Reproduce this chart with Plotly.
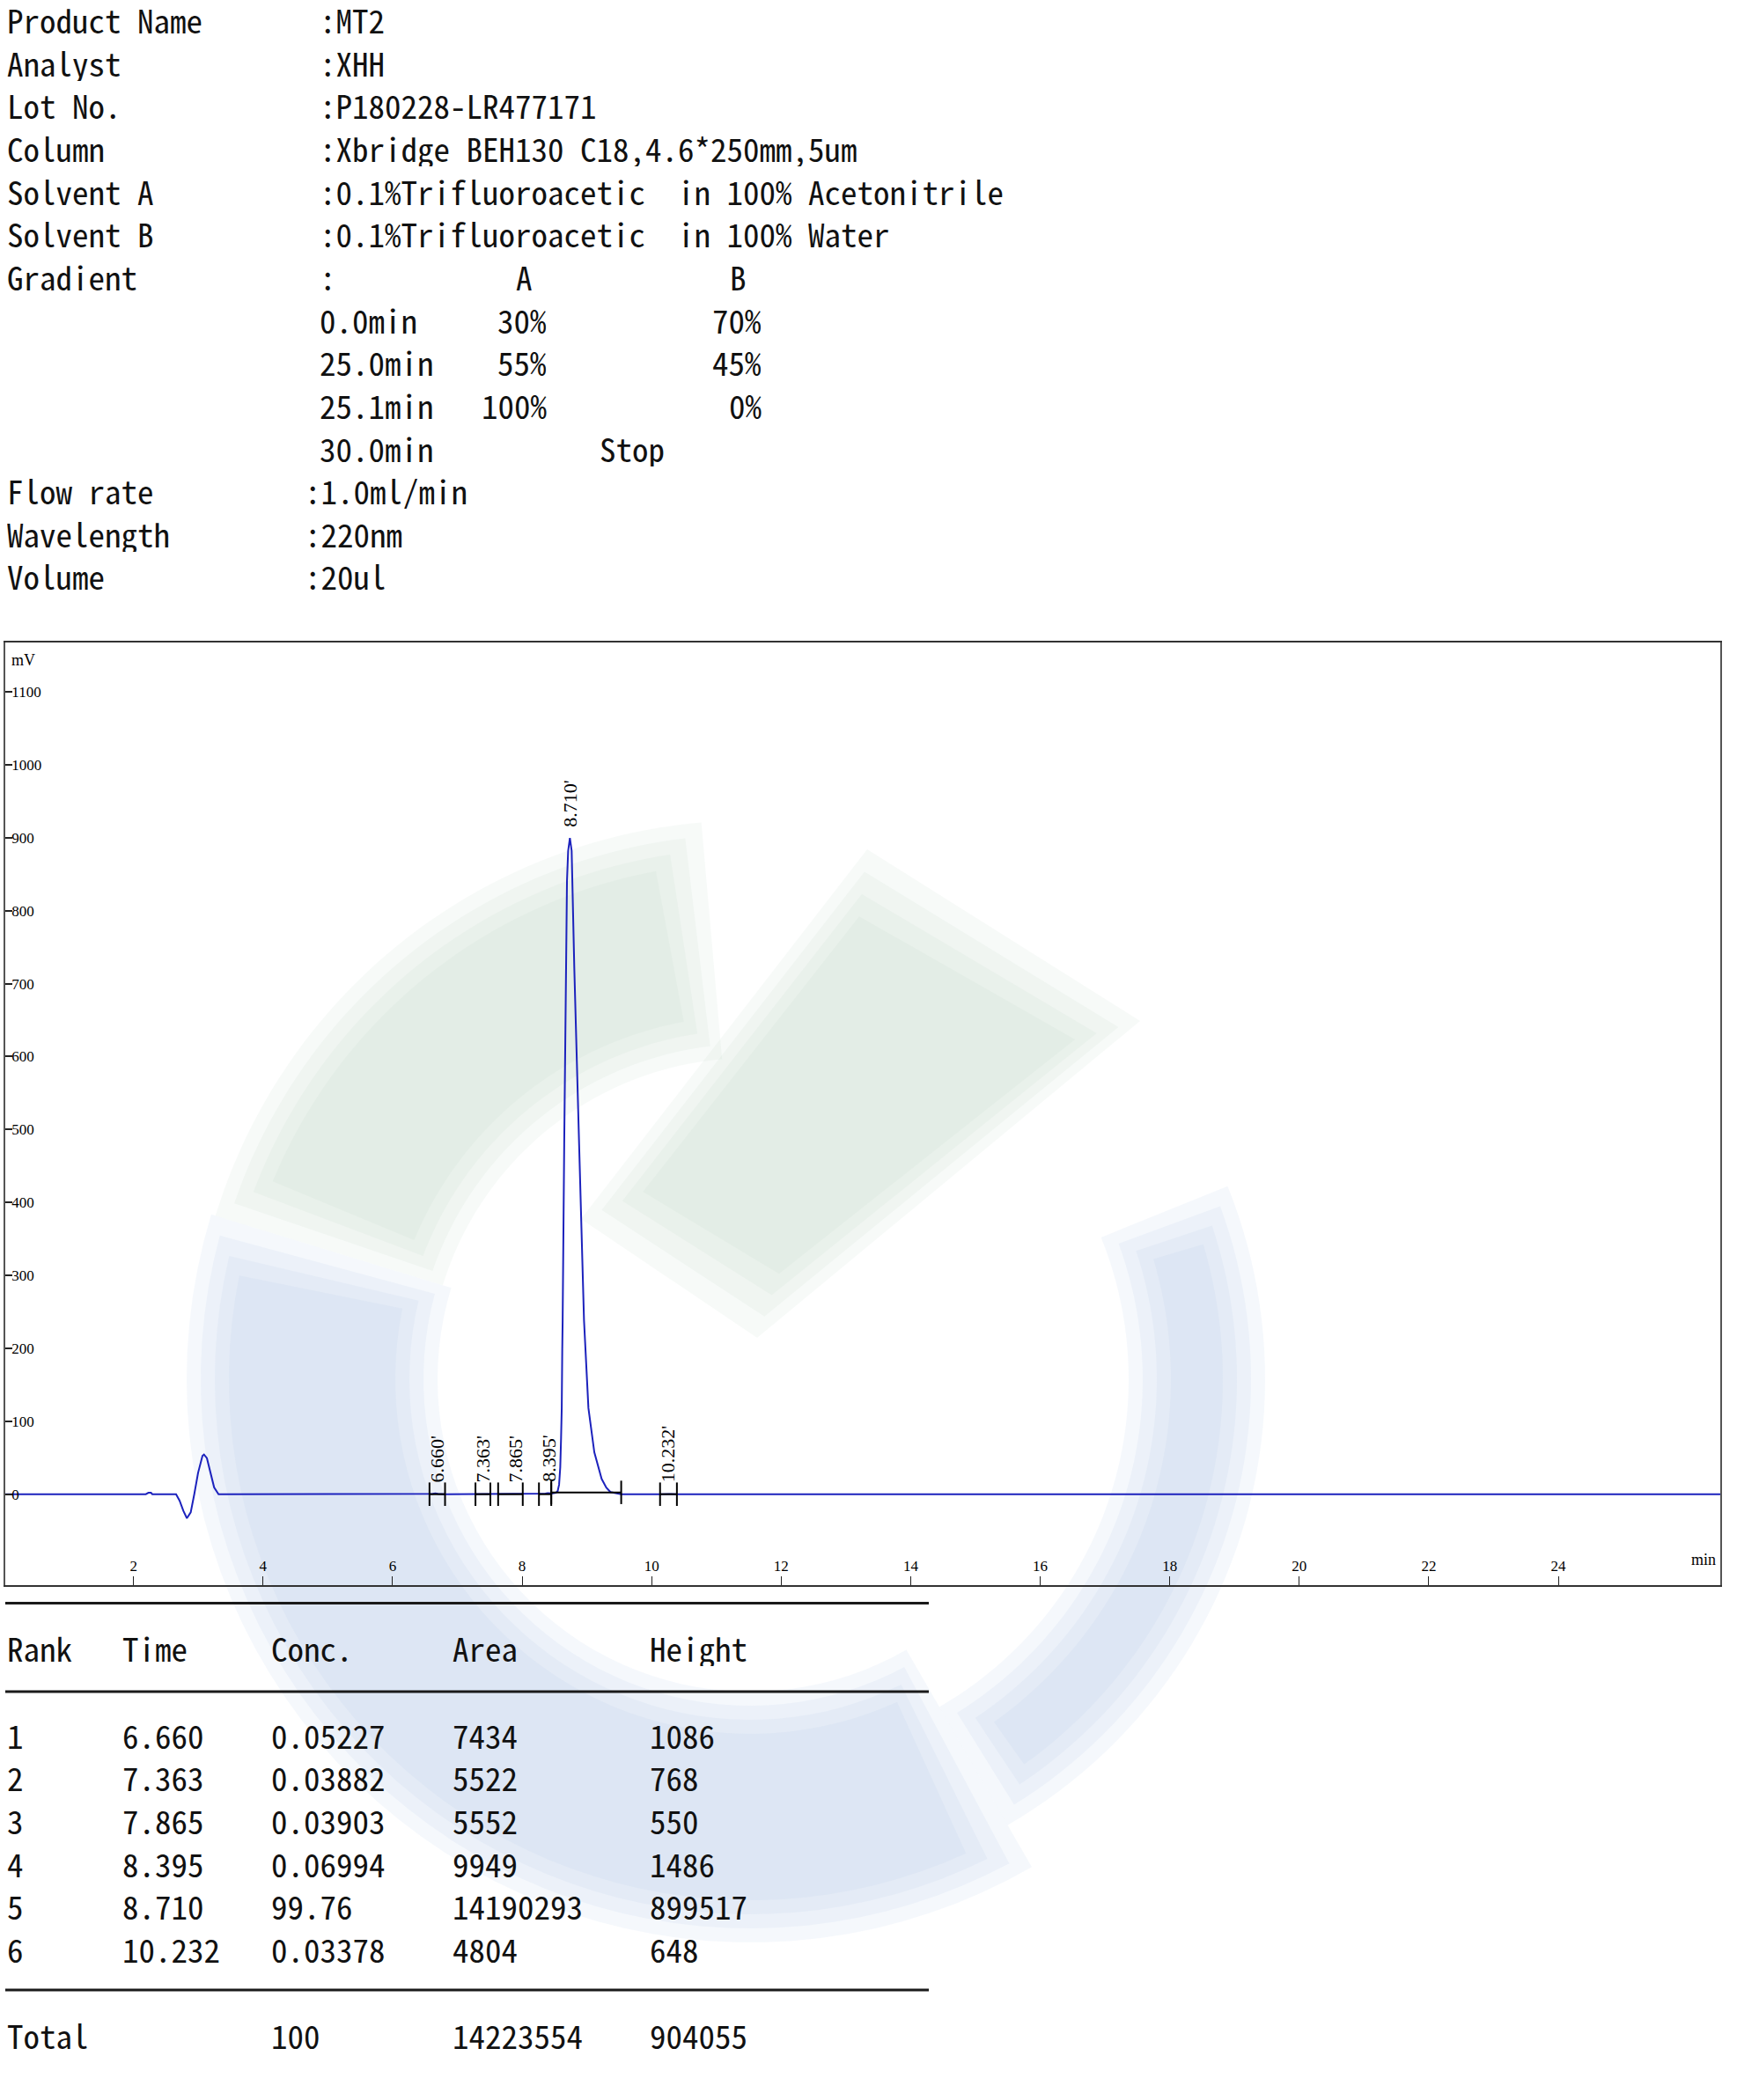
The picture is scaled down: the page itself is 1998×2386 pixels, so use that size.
import math
import plotly.graph_objects as go

W, H = 1998, 2386

# ---------------- chromatogram (min, mV) ----------------
time_min = [0.0, 2.19, 2.23, 2.25, 2.27, 2.29, 2.657, 2.711, 2.77, 2.824, 2.883, 2.938,
            2.997, 3.065, 3.088, 3.133, 3.191, 3.245, 3.313,
            6.57, 6.62, 6.66, 6.70, 6.81,
            7.28, 7.33, 7.363, 7.40, 7.51,
            7.63, 7.82, 7.865, 7.91, 8.01,
            8.26, 8.36, 8.395, 8.43, 8.453, 8.52, 8.548, 8.571, 8.589, 8.602, 8.612,
            8.620, 8.626, 8.650, 8.675, 8.693, 8.711, 8.738, 8.765, 8.775, 8.806,
            8.880, 8.956, 9.024, 9.115, 9.228, 9.300, 9.364, 9.450, 9.530,
            10.13, 10.20, 10.232, 10.27, 10.39, 26.5]
signal_mv = [0.0, 0.0, 2.0, 2.4, 2.0, 0.0, 0.0, -8.8, -22.9, -33.0, -24.9, 0.0,
             29.4, 52.7, 54.3, 49.5, 29.4, 9.3, 0.0,
             0.0, 0.5, 1.1, 0.5, 0.0,
             0.0, 0.4, 0.8, 0.4, 0.0,
             0.0, 0.3, 0.55, 0.3, 0.0,
             0.0, 0.8, 1.5, 1.2, 1.0, 2.0, 4.0, 13.0, 37.0, 78.0, 118.0,
             199.0, 238.0, 480.0, 721.0, 841.0, 882.0, 899.5, 882.0, 842.0, 721.0,
             480.0, 238.0, 118.0, 57.5, 21.0, 9.0, 3.0, 1.0, 0.0,
             0.0, 0.3, 0.65, 0.3, 0.0, 0.0]

# ---------------- integrated peaks ----------------
peak_rt = [6.660, 7.363, 7.865, 8.395, 8.710, 10.232]
peak_labels = ["6.660'", "7.363'", "7.865'", "8.395'", "8.710'", "10.232'"]
peak_height_mv = [1.086, 0.768, 0.550, 1.486, 899.517, 0.648]
peak_start_min = [6.57, 7.28, 7.63, 8.26, 8.45, 10.13]
peak_end_min = [6.81, 7.51, 8.01, 8.45, 9.53, 10.39]
peak_base_mv = [0.0, 0.0, 0.0, 0.0, 2.5, 0.0]

x_ticks = [2, 4, 6, 8, 10, 12, 14, 16, 18, 20, 22, 24]
y_ticks = [-100, 0, 100, 200, 300, 400, 500, 600, 700, 800, 900, 1000, 1100]

# ---------------- header information ----------------
info_labels = ["Product Name", "Analyst", "Lot No.", "Column", "Solvent A", "Solvent B", "Gradient"]
info_values = [":MT2", ":XHH", ":P180228-LR477171", ":Xbridge BEH130 C18,4.6*250mm,5um",
               ":0.1%Trifluoroacetic  in 100% Acetonitrile",
               ":0.1%Trifluoroacetic  in 100% Water", ":"]
grad_head = ["A", "B"]
grad_time = ["0.0min", "25.0min", "25.1min", "30.0min"]
grad_a = ["30%", "55%", "100%", ""]
grad_b = ["70%", "45%", "0%", ""]
grad_stop = "Stop"
run_labels = ["Flow rate", "Wavelength", "Volume"]
run_values = [":1.0ml/min", ":220nm", ":20ul"]

# ---------------- result table ----------------
tbl_head = ["Rank", "Time", "Conc.", "Area", "Height"]
tbl_rank = ["1", "2", "3", "4", "5", "6"]
tbl_time = ["6.660", "7.363", "7.865", "8.395", "8.710", "10.232"]
tbl_conc = ["0.05227", "0.03882", "0.03903", "0.06994", "99.76", "0.03378"]
tbl_area = ["7434", "5522", "5552", "9949", "14190293", "4804"]
tbl_height = ["1086", "768", "550", "1486", "899517", "648"]
tbl_total = ["Total", "", "100", "14223554", "904055"]

# ---------------- styling ----------------
BLUE = "#1c22bd"
MONO = "Noto Sans Mono CJK SC, Noto Sans Mono CJK JP, Liberation Mono, monospace"
SERIF = "Liberation Serif, Times New Roman, serif"
TXT = "#111111"
MONO_SIZE = 37


def px(x):
    return x / W


def py(y):
    return 1 - y / H


def nb(s):
    return s.replace(" ", "\u00a0")


fig = go.Figure()

# chromatogram line
fig.add_trace(go.Scatter(x=time_min, y=signal_mv, mode="lines",
                         line=dict(color=BLUE, width=2), hoverinfo="skip"))

# integration baselines
bx, by = [], []
for s, e, b in zip(peak_start_min, peak_end_min, peak_base_mv):
    bx += [s, e, None]
    by += [b, b, None]
fig.add_trace(go.Scatter(x=bx, y=by, mode="lines", line=dict(color="black", width=2),
                         hoverinfo="skip"))

# integration start/end ticks
fig.add_trace(go.Scatter(x=peak_start_min + peak_end_min, y=peak_base_mv + peak_base_mv,
                         mode="markers",
                         marker=dict(symbol="line-ns-open", size=19, color="black",
                                     line=dict(width=2, color="black")),
                         hoverinfo="skip"))

annotations = []

# peak labels
for rt, lab, h in zip(peak_rt, peak_labels, peak_height_mv):
    annotations.append(dict(x=rt, y=h + 13, xref="x", yref="y", text=lab, showarrow=False,
                            textangle=-90, xanchor="center", yanchor="bottom", xshift=2,
                            font=dict(family=SERIF, size=22, color="black")))

# axis unit labels
annotations.append(dict(x=px(11), y=py(750), xref="paper", yref="paper", text="mV",
                        showarrow=False, xanchor="left", yanchor="middle",
                        font=dict(family=SERIF, size=18, color="black")))
annotations.append(dict(x=px(1951), y=py(1772), xref="paper", yref="paper", text="min",
                        showarrow=False, xanchor="right", yanchor="middle",
                        font=dict(family=SERIF, size=18, color="black")))


def add_text(x, y, text, anchor="left"):
    annotations.append(dict(x=px(x), y=py(y), xref="paper", yref="paper", text=nb(text),
                            showarrow=False, xanchor=anchor, yanchor="middle", height=42,
                            font=dict(family=MONO, size=MONO_SIZE, color=TXT)))


ROW0, ROWH = 22.0, 48.65
COLW = 18.73
for i, (lab, val) in enumerate(zip(info_labels, info_values)):
    add_text(6, ROW0 + i * ROWH, lab)
    add_text(361, ROW0 + i * ROWH, val)
# gradient header letters
add_text(361 + 12.5 * COLW, ROW0 + 6 * ROWH, grad_head[0], "center")
add_text(361 + 25.5 * COLW, ROW0 + 6 * ROWH, grad_head[1], "center")
for j, (t, a, b) in enumerate(zip(grad_time, grad_a, grad_b)):
    yy = ROW0 + (7 + j) * ROWH
    add_text(361, yy, t)
    if a:
        add_text(361 + 14 * COLW, yy, a, "right")
    if b:
        add_text(361 + 27 * COLW, yy, b, "right")
add_text(361 + 17 * COLW, ROW0 + 10 * ROWH, grad_stop)
for k, (lab, val) in enumerate(zip(run_labels, run_values)):
    yy = ROW0 + (11 + k) * ROWH
    add_text(6, yy, lab)
    add_text(344, yy, val)

# table
tcols = [6, 6 + 7 * COLW, 6 + 16 * COLW, 6 + 27 * COLW, 6 + 39 * COLW]
for c, hname in zip(tcols, tbl_head):
    add_text(c, 1872, hname)
for r, row in enumerate(zip(tbl_rank, tbl_time, tbl_conc, tbl_area, tbl_height)):
    for c, v in zip(tcols, row):
        add_text(c, 1970.6 + r * 48.65, v)
for c, v in zip(tcols, tbl_total):
    if v:
        add_text(c, 2311.5, v)

shapes = []


# ---------------- faint, soft background watermark (decoration) ----------------
def pth(points):
    return "M " + " L ".join(f"{px(x):.5f},{py(y):.5f}" for x, y in points) + " Z"


def ring(cx, cy, r_out, r_in, a0, a1, n=48):
    outer, inner = [], []
    for i in range(n + 1):
        a = math.radians(a0 + (a1 - a0) * i / n)
        outer.append((cx + r_out * math.cos(a), cy - r_out * math.sin(a)))
        inner.append((cx + r_in * math.cos(a), cy - r_in * math.sin(a)))
    return pth(outer + inner[::-1])


def shrink(points, d):
    mx = sum(p[0] for p in points) / len(points)
    my = sum(p[1] for p in points) / len(points)
    out = []
    for x, y in points:
        vx, vy = x - mx, y - my
        L = math.hypot(vx, vy)
        f = max(L - d * 1.6, 0) / L
        out.append((mx + vx * f, my + vy * f))
    return out


WM_GREEN = "rgba(190,215,200,0.12)"
WM_BLUE = "rgba(170,195,230,0.12)"
CX, CY = 852, 1567
ring_parts = [  # (r_out, r_in, a0, a1, colour)
    (635, 365, 95, 163, WM_GREEN),
    (640, 355, 163, 300, WM_BLUE),
    (585, 430, 300, 382, WM_BLUE),
]
blade = [(985, 965), (1295, 1160), (860, 1520), (660, 1385)]
for d in [0, 16, 32, 48]:
    for ro, ri, a0, a1, col in ring_parts:
        da = math.degrees(d / ((ro + ri) / 2))
        shapes.append(dict(type="path", xref="paper", yref="paper", layer="below",
                           path=ring(CX, CY, ro - d, ri + d, a0 + da, a1 - da),
                           fillcolor=col, line=dict(width=0)))
    shapes.append(dict(type="path", xref="paper", yref="paper", layer="below",
                       path=pth(shrink(blade, d)), fillcolor=WM_GREEN, line=dict(width=0)))

for yy in [1821.5, 1922, 2261]:
    shapes.append(dict(type="line", xref="paper", yref="paper", x0=px(6), x1=px(1055),
                       y0=py(yy), y1=py(yy), line=dict(color="#1a1a1a", width=3)))

axis_font = dict(family=SERIF, size=17, color="black")
fig.update_layout(
    width=W, height=H, margin=dict(l=0, r=0, t=0, b=0),
    paper_bgcolor="white", plot_bgcolor="rgba(0,0,0,0)", showlegend=False,
    annotations=annotations, shapes=shapes,
    xaxis=dict(domain=[px(6), px(1954)], range=[0.02, 26.5], tickvals=x_ticks,
               ticks="inside", ticklen=10, tickwidth=1, tickcolor="#222",
               ticklabelposition="inside", ticklabelstandoff=3, showline=True, mirror=True,
               linecolor="#333", linewidth=2, showgrid=False, zeroline=False,
               tickfont=axis_font),
    yaxis=dict(domain=[py(1801.3), py(729.7)], range=[-125, 1168], tickvals=y_ticks,
               ticks="inside", ticklen=8, tickwidth=2, tickcolor="#222",
               ticklabelposition="inside", showline=True, mirror=True,
               linecolor="#555", linewidth=1.5, showgrid=False, zeroline=False,
               tickfont=axis_font),
)

fig.write_html("out.html", config={"displayModeBar": False},
               post_script="document.body.style.margin='0';")
